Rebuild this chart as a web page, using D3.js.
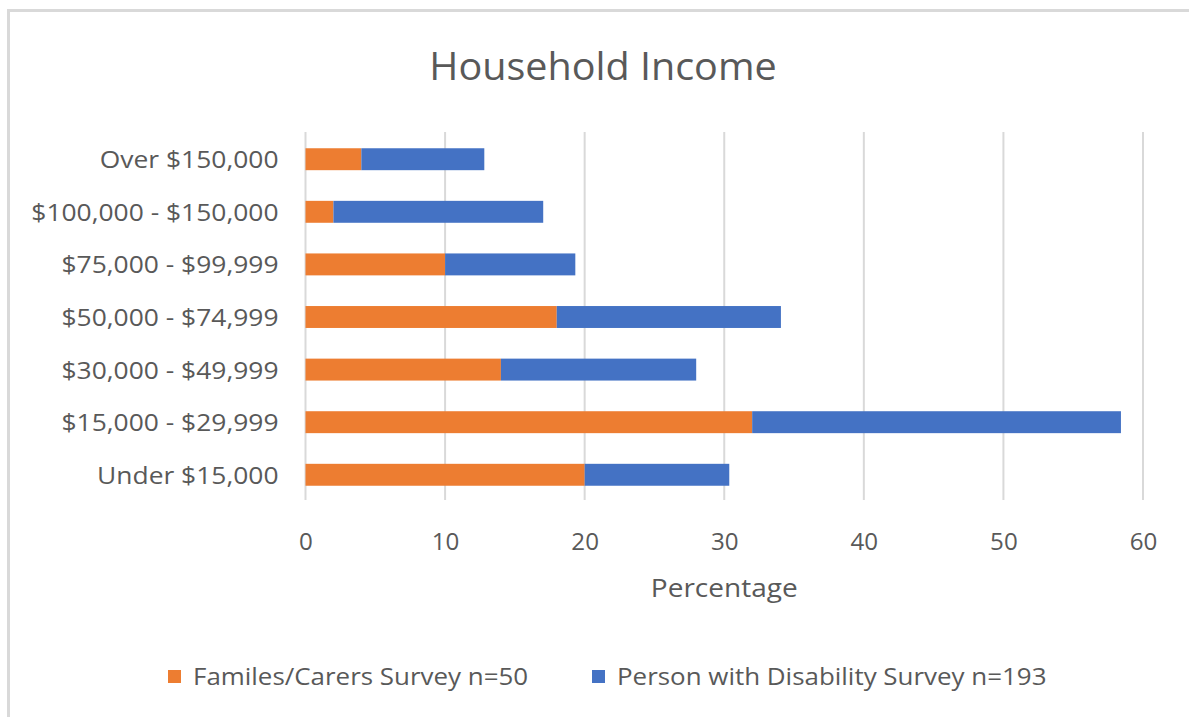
<!DOCTYPE html>
<html>
<head>
<meta charset="utf-8">
<script src="https://cdn.jsdelivr.net/npm/d3@7"></script>
<style>
  html, body { margin: 0; padding: 0; background: #ffffff; }
  svg { display: block; }
  text { font-family: "Open Sans", "Noto Sans", sans-serif; fill: #595959; }
</style>
</head>
<body>
<svg id="chart" width="1189" height="717"></svg>
<script>
// Income bands, bottom to top as shown on the axis
const categories = [
  "Under $15,000",
  "$15,000 - $29,999",
  "$30,000 - $49,999",
  "$50,000 - $74,999",
  "$75,000 - $99,999",
  "$100,000 - $150,000",
  "Over $150,000"
];
// Percentage of respondents in each band
const familiesCarers = [20, 32, 14, 18, 10, 2, 4];
const personWithDisability = [10.36, 26.42, 13.99, 16.06, 9.33, 15.03, 8.81];
const seriesNames = ["Familes/Carers Survey n=50", "Person with Disability Survey n=193"];
const seriesColors = ["#ED7D31", "#4472C4"];
const xTicks = [0, 10, 20, 30, 40, 50, 60];

const svg = d3.select("#chart");

// widen a text run horizontally by the given factor
function widen(sel, factor) {
  sel.each(function () {
    const len = this.getComputedTextLength();
    d3.select(this)
      .attr("textLength", len * factor)
      .attr("lengthAdjust", "spacingAndGlyphs");
  });
}

// outer chart frame
svg.append("rect")
  .attr("x", 8.5).attr("y", 10.5)
  .attr("width", 1300).attr("height", 900)
  .attr("fill", "#ffffff")
  .attr("stroke", "#d9d9d9").attr("stroke-width", 3);

const plot = { left: 305.5, right: 1143, top: 132, bottom: 500 };

const x = d3.scaleLinear().domain([0, 60]).range([plot.left, plot.right]);
const y = d3.scaleBand()
  .domain(categories.slice().reverse())
  .range([plot.top, plot.bottom])
  .paddingInner(0.583).paddingOuter(0.29);

// vertical gridlines
svg.append("g")
  .selectAll("line")
  .data(xTicks)
  .join("line")
  .attr("x1", d => x(d)).attr("x2", d => x(d))
  .attr("y1", plot.top).attr("y2", plot.bottom)
  .attr("stroke", "#d9d9d9").attr("stroke-width", 2);

// stacked bars
const rows = categories.map((c, i) => ({
  cat: c,
  parts: [
    { s: 0, x0: 0, x1: familiesCarers[i] },
    { s: 1, x0: familiesCarers[i], x1: familiesCarers[i] + personWithDisability[i] }
  ]
}));

svg.append("g")
  .selectAll("g")
  .data(rows)
  .join("g")
  .selectAll("rect")
  .data(d => d.parts.map(p => ({ ...p, cat: d.cat })))
  .join("rect")
  .attr("x", d => x(d.x0))
  .attr("width", d => x(d.x1) - x(d.x0))
  .attr("y", d => y(d.cat) + 1)
  .attr("height", y.bandwidth())
  .attr("fill", d => seriesColors[d.s]);

// category axis labels
const yAxis = svg.append("g")
  .attr("transform", `translate(${plot.left},0)`)
  .call(d3.axisLeft(y).tickSize(0).tickPadding(27));
yAxis.select(".domain").remove();
yAxis.selectAll("text")
  .style("font-family", '"Open Sans", sans-serif')
  .style("font-size", "24px")
  .attr("fill", "#595959")
  .attr("dy", "0.42em")
  .call(widen, 1.1);

// value axis labels
const xAxis = svg.append("g")
  .attr("transform", `translate(0,${plot.bottom})`)
  .call(d3.axisBottom(x).tickValues(xTicks).tickSize(0).tickPadding(34));
xAxis.select(".domain").remove();
xAxis.selectAll("text")
  .style("font-family", '"Open Sans", sans-serif')
  .style("font-size", "23px")
  .attr("fill", "#595959")
  .call(widen, 1.05);

// title
svg.append("text")
  .attr("x", 603).attr("y", 80)
  .attr("text-anchor", "middle")
  .style("font-size", "38px")
  .text("Household Income")
  .call(widen, 1.04);

// axis title
svg.append("text")
  .attr("x", (plot.left + plot.right) / 2).attr("y", 597)
  .attr("text-anchor", "middle")
  .style("font-size", "25px")
  .text("Percentage")
  .call(widen, 1.12);

// legend
const legendItems = [
  { name: seriesNames[0], color: seriesColors[0], x: 168 },
  { name: seriesNames[1], color: seriesColors[1], x: 592 }
];
const legend = svg.append("g");
legendItems.forEach(item => {
  legend.append("rect")
    .attr("x", item.x).attr("y", 670)
    .attr("width", 13).attr("height", 13)
    .attr("fill", item.color);
  legend.append("text")
    .attr("x", item.x + 25).attr("y", 685)
    .style("font-size", "24px")
    .text(item.name)
    .call(widen, 1.08);
});
</script>
</body>
</html>
